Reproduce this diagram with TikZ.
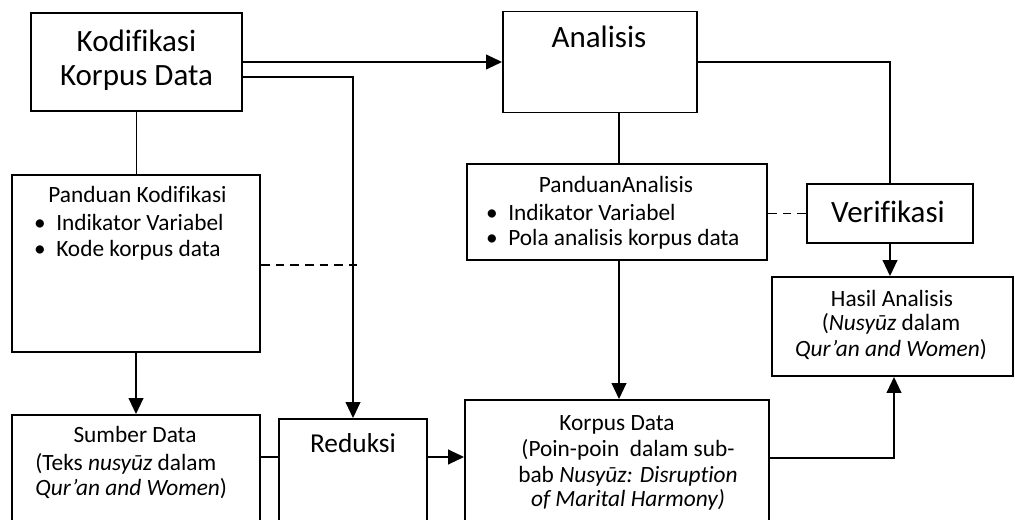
\documentclass[tikz,border=0pt]{standalone}
\usepackage{fontspec}
\setmainfont{Carlito}[Ligatures=NoCommon]
\usetikzlibrary{arrows.meta}
\begin{document}
\begin{tikzpicture}[x=0.75pt,y=-0.75pt,
  box/.style={draw,line width=1.4pt,rectangle,inner sep=0pt},
  conn/.style={line width=1.4pt},
  arr/.style={conn,-{Triangle[length=12pt,width=11pt]}},
  dsh/.style={conn,dash pattern=on 6.5pt off 4.5pt},
  txt/.style={font=\fontsize{17.5}{20}\selectfont,inner sep=0pt,anchor=base},
  txtl/.style={txt,anchor=base west},
  big/.style={font=\fontsize{23.25}{28}\selectfont,inner sep=0pt,anchor=base},
  mid/.style={font=\fontsize{20.5}{24}\selectfont,inner sep=0pt,anchor=base}]
\useasboundingbox (0,0) rectangle (1015,520);
\clip (0,0) rectangle (1015,520);
% boxes
\node[box,minimum width=158.25pt,minimum height=73.5pt] (kod) at (136.5,62) {};
\node[box,minimum width=145.5pt,minimum height=75.75pt] (ana) at (600,62) {};
\node[box,minimum width=186pt,minimum height=132.75pt] (pk) at (136,263.5) {};
\node[box,minimum width=225pt,minimum height=72pt] (pa) at (617,212) {};
\node[box,minimum width=124.5pt,minimum height=44.25pt] (ver) at (890,213.5) {};
\node[box,minimum width=180.75pt,minimum height=74.25pt] (has) at (892.5,326.5) {};
\node[box,minimum width=186pt,minimum height=93.75pt] (sum) at (136,477.5) {};
\node[box,minimum width=111pt,minimum height=90.75pt] (red) at (353,479.5) {};
\node[box,minimum width=228pt,minimum height=105pt] (kor) at (617,470) {};
% texts
\node[big] (kodA) at (136.5,52) {Kodifikasi};
\node[big] (kodB) at (136.5,86) {Korpus Data};
\node[big] (anaT) at (599,48) {Analisis};
\node[big] (verT) at (888,223) {Verifikasi};
\node[mid] (redT) at (353,453) {Reduksi};
\node[txt] (pkT) at (137.5,203) {Panduan Kodifikasi};
\node[txt] (pkB1) at (40,231) {•};
\node[txtl] (pkL1) at (56,231) {Indikator Variabel};
\node[txt] (pkB2) at (40,257) {•};
\node[txtl] (pkL2) at (56,257) {Kode korpus data};
\node[txt] (paT) at (616,193) {PanduanAnalisis};
\node[txt] (paB1) at (492,221) {•};
\node[txtl] (paL1) at (508,221) {Indikator Variabel};
\node[txt] (paB2) at (492,246) {•};
\node[txtl] (paL2) at (508,246) {Pola analisis korpus data};
\node[txt] (hasA) at (892,307) {Hasil Analisis};
\node[txt] (hasB) at (891,331) {(\textit{Nusyūz} dalam};
\node[txt] (hasC) at (891,357) {\textit{Qur’an and Women})};
\node[txt] (sumA) at (135,443) {Sumber Data};
\node[txtl] (sumB) at (35,470) {(Teks \textit{nusyūz} dalam};
\node[txtl] (sumC) at (35,495) {\textit{Qur’an and Women})};
\node[txt] (korA) at (617,431) {Korpus Data};
\node[txt] (korB) at (628,457) {(Poin-poin\ \ dalam sub-};
\node[txt] (korC) at (628,483) {bab \textit{Nusyūz: Disruption}};
\node[txt] (korD) at (628,507) {\textit{of Marital Harmony)}};
% connectors
\coordinate (dk) at (357,265);
\draw[arr] (kod.east) -- (kod.east -| ana.west);
\draw[arr] (kod.east |- 0,77) -| (red.north);
\draw[conn] (kod.south) -- (kod.south |- pk.north);
\draw[arr] (pk.south) -- (sum.north);
\draw[dsh] (pk.east |- dk) -- (dk);
\draw[conn] (sum.east |- 0,457) -- (red.west |- 0,457);
\draw[arr] (red.east |- 0,457) -- (kor.west |- 0,457);
\draw[conn] (ana.south -| 619,0) -- (pa.north -| 619,0);
\draw[arr] (pa.south -| 619,0) -- (kor.north -| 619,0);
\draw[conn] (ana.east) -| (ver.north);
\draw[dsh] (pa.east |- ver.west) -- (ver.west);
\draw[arr] (ver.south) -- (ver.south |- has.north);
\draw[arr] (kor.east |- 0,458) -| (has.south -| 894,0);
\end{tikzpicture}
\end{document}
